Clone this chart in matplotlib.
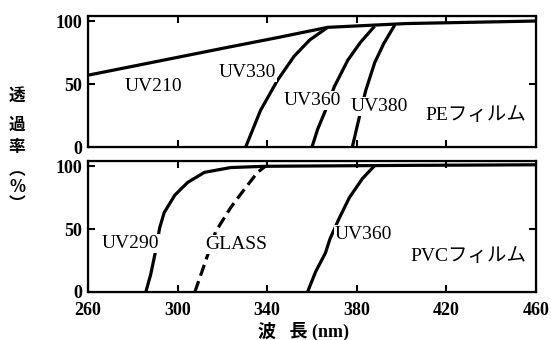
import matplotlib.pyplot as plt

plt.rcParams['font.family'] = ['Liberation Serif', 'Noto Sans CJK JP']

# PEフィルム (top panel)
uv210_nm = [260, 322, 345, 367, 402, 460]
uv210_t = [57, 79, 87, 95, 98, 100]
uv330_nm = [330.4, 337, 344.6, 352, 359, 367]
uv330_t = [0, 29, 53, 72, 85, 95]
uv360_nm = [360, 362.5, 366, 370, 376, 381.6, 388]
uv360_t = [0, 14, 29, 48, 69, 83, 96]
uv380_nm = [378, 380.5, 384, 388, 392, 397]
uv380_t = [0, 19, 45, 67, 82, 97]

# PVCフィルム (bottom panel)
uv290_nm = [285.8, 288, 290, 292, 294, 298.8, 304.5, 312, 323.7, 339, 400, 460]
uv290_t = [0, 14, 31, 51, 63, 77, 87, 95, 98.8, 99.8, 100.5, 101]
glass_nm = [307.7, 312, 317, 323.7, 330, 335.7, 339]
glass_t = [0, 22, 48, 67, 82, 95, 99.6]
uv360b_nm = [358, 361.6, 366, 368, 372, 376.7, 382.5, 388]
uv360b_t = [0, 16, 31, 42, 58, 75, 90, 100.4]

xticks = [260, 300, 340, 380, 420, 460]
yticks = [0, 50, 100]

fig = plt.figure(figsize=(5.51, 3.40), dpi=100)
ax1 = fig.add_axes([88/551, 1 - 147/340, 448/551, 131/340])
ax2 = fig.add_axes([88/551, 1 - 292/340, 448/551, 131/340])

lw = 2.3
ax1.plot(uv210_nm, uv210_t, color='black', lw=lw, solid_capstyle='butt')
ax1.plot(uv330_nm, uv330_t, color='black', lw=lw, solid_capstyle='butt')
ax1.plot(uv360_nm, uv360_t, color='black', lw=lw, solid_capstyle='butt')
ax1.plot(uv380_nm, uv380_t, color='black', lw=lw, solid_capstyle='butt')

ax2.plot(uv290_nm, uv290_t, color='black', lw=lw, solid_capstyle='butt')
ax2.plot(glass_nm, glass_t, color='black', lw=lw, dashes=(3.6, 1.8))
ax2.plot(uv360b_nm, uv360b_t, color='black', lw=lw, solid_capstyle='butt')

box = dict(facecolor='white', edgecolor='none', pad=0.5)
lab = dict(fontsize=14, ha='center', va='center', zorder=5, bbox=box)
ax1.text(289, 48, 'UV210', **lab)
ax1.text(331, 59, 'UV330', **lab)
ax1.text(360, 37, 'UV360', **lab)
ax1.text(390, 32, 'UV380', **lab)
ax1.text(433, 25, 'PEフィルム', **lab)

ax2.text(279, 38.5, 'UV290', **lab)
ax2.text(326, 37.5, 'GLASS', **lab)
ax2.text(383, 46, 'UV360', **lab)
ax2.text(430, 28, 'PVCフィルム', **lab)

for ax in (ax1, ax2):
    ax.set_xlim(260, 460)
    ax.set_ylim(0, 104)
    ax.set_xticks(xticks)
    ax.set_yticks(yticks)
    ax.tick_params(direction='in', length=5, width=1.5, top=True,
                   labelsize=13, pad=4)
    ax.tick_params(axis='x', pad=7)
    for s in ax.spines.values():
        s.set_linewidth(1.6)
    for t in ax.get_yticklabels() + ax.get_xticklabels():
        t.set_fontweight('bold')
    axr = ax.twinx()
    axr.set_ylim(0, 104)
    axr.set_yticks([50])
    axr.tick_params(direction='in', length=5, width=1.5, labelright=False)

ax1.tick_params(labelbottom=False)

# vertical y label
for ch, y in [('透', 96), ('過', 125), ('率', 147), ('︵', 170), ('%', 187), ('︶', 204)]:
    fig.text(17/551, 1 - y/340, ch, fontsize=12, ha='center', va='center',
             fontweight='bold', family=['Noto Sans CJK JP', 'DejaVu Sans'])

fig.text(303/551, 1 - 331/340, '波   長 (nm)', fontsize=13, ha='center',
         va='center', fontweight='bold')

fig.savefig('out.png', dpi=100)
